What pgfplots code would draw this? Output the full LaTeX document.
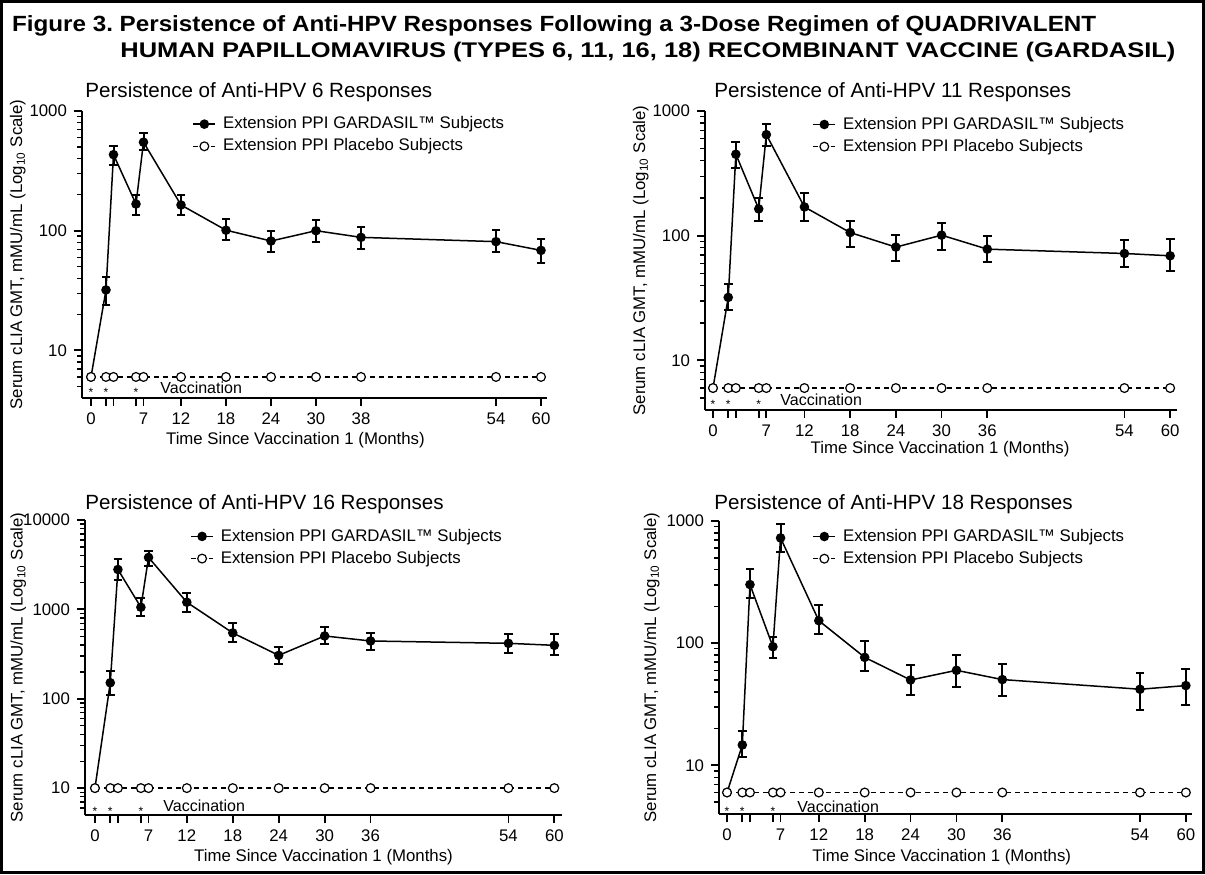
\documentclass[border=0pt]{standalone}
\usepackage{graphicx}
\usepackage{pgfplots}
\pgfplotsset{compat=1.18}
\usepackage{fontspec}
\setmainfont{Liberation Sans}
\frenchspacing
\newcommand{\tf}{\fontsize{8.4}{10}\selectfont}
\pgfplotsset{
  legend image code/.code={\draw[mark repeat=2,mark phase=2,#1] plot coordinates {(0pt,0pt) (5.5pt,0pt) (11pt,0pt)};},
  every axis/.append style={
    scale only axis, anchor=south west, clip=false,
    ymode=log,
    axis x line*=bottom, axis y line*=left,
    axis line style={line width=1pt},
    tick align=outside,
    major tick length=4pt, minor tick length=2.5pt,
    every tick/.style={black, line width=0.9pt},
    every minor tick/.style={black, line width=0.7pt},
    xtick={0,2,3,6,7,12,18,24,30,36,54,60},
    tick label style={font=\tf},
    every axis label/.append style={font=\tf},
    xlabel={Time Since Vaccination 1 (Months)},
    ylabel={Serum cLIA GMT, mMU/mL (Log\textsubscript{10} Scale)},
  },
  every axis legend/.append style={draw=none, fill=none, font=\tf, cells={anchor=west}, anchor=north west, row sep=-0.5pt, column sep=1.5pt, inner sep=0pt},
}
\tikzset{
  gard/.style={black, solid, line width=0.75pt, mark=*, mark size=2pt},
  plac/.style={black, line width=0.75pt, dash pattern=on 2.5pt off 2pt, mark=*, mark size=2.2pt, mark options={solid, fill=white, draw=black, line width=0.6pt}},
  ebar/.style={black, solid, line width=1pt, mark=-, mark size=2.2pt, mark options={solid, line width=1pt}},
}
\newcommand{\vacc}[2]{%
  \node[font=\fontsize{8}{9}\selectfont, anchor=west, inner sep=0pt] at (axis cs:#1) {Vaccination};
  \node[font=\fontsize{6}{7}\selectfont, inner sep=0pt] at (axis cs:0,#2) {*};
  \node[font=\fontsize{6}{7}\selectfont, inner sep=0pt] at (axis cs:2,#2) {*};
  \node[font=\fontsize{6}{7}\selectfont, inner sep=0pt] at (axis cs:6,#2) {*};
}
\begin{document}
\begin{tikzpicture}
\useasboundingbox (0pt,0pt) rectangle (602.5pt,-437pt);
\draw[line width=1.5pt] (0.75pt,-0.75pt) rectangle (601.75pt,-436.25pt);
\node[font=\bfseries\fontsize{11}{13}\selectfont, anchor=base west, inner sep=0pt] at (5.85pt,-15.85pt) {\resizebox{542pt}{\height}{Figure 3. Persistence of Anti-HPV Responses Following a 3-Dose Regimen of QUADRIVALENT}};
\node[font=\bfseries\fontsize{10.6}{13}\selectfont, anchor=base west, inner sep=0pt] at (60pt,-28.65pt) {\resizebox{527.5pt}{\height}{HUMAN PAPILLOMAVIRUS (TYPES 6, 11, 16, 18) RECOMBINANT VACCINE (GARDASIL)}};
\node[font=\fontsize{10.3}{12}\selectfont, anchor=base west, inner sep=0pt] at (42.5pt,-48.75pt) {Persistence of Anti-HPV 6 Responses};
\node[font=\fontsize{10.3}{12}\selectfont, anchor=base west, inner sep=0pt] at (357pt,-48.75pt) {Persistence of Anti-HPV 11 Responses};
\node[font=\fontsize{10.3}{12}\selectfont, anchor=base west, inner sep=0pt] at (42.5pt,-254.75pt) {Persistence of Anti-HPV 16 Responses};
\node[font=\fontsize{10.3}{12}\selectfont, anchor=base west, inner sep=0pt] at (357pt,-254.75pt) {Persistence of Anti-HPV 18 Responses};

% ---------- HPV 6 ----------
\begin{axis}[at={(41pt,-199pt)}, width=232.5pt, height=143.5pt,
  xmin=-1.2, xmax=60.8, ymin=4, ymax=1000,
  ytick={10,100,1000}, yticklabels={10,100,1000},
  minor ytick={5,6,7,8,9,20,30,40,50,60,70,80,90,200,300,400,500,600,700,800,900},
  xticklabels={0,,,,7,12,18,24,30,38,54,60},
  xlabel style={at={(axis description cs:0.459,-0.146)}, anchor=center},
  ylabel style={at={(axis description cs:-0.138,0.5)}, anchor=center},
  legend style={at={(axis description cs:0.237,0.996)}}]
\addplot[gard] coordinates {(0,6) (2,32) (3,432) (6,167) (7,549) (12,164) (18,101) (24,82) (30,100) (36,88) (54,81) (60,68.5)};
\addlegendentry{Extension PPI GARDASIL™ Subjects}
\addplot[plac] coordinates {(0,6) (2,6) (3,6) (6,6) (7,6) (12,6) (18,6) (24,6) (30,6) (36,6) (54,6) (60,6)};
\addlegendentry{Extension PPI Placebo Subjects}
\addplot[ebar, unbounded coords=jump, forget plot] coordinates {(2,24) (2,41) (2,nan) (3,356) (3,515) (3,nan) (6,135) (6,200) (6,nan) (7,468) (7,650) (7,nan) (12,135) (12,200) (12,nan) (18,84) (18,125) (18,nan) (24,67) (24,99) (24,nan) (30,80) (30,122) (30,nan) (36,71) (36,108) (36,nan) (54,66) (54,101) (54,nan) (60,53.5) (60,86)};
\vacc{9.2,4.9}{4.45}
\end{axis}

% ---------- HPV 11 ----------
\begin{axis}[at={(352.5pt,-205pt)}, width=236pt, height=149.5pt,
  xmin=-1.05, xmax=60.9, ymin=4, ymax=1000,
  ytick={10,100,1000}, yticklabels={10,100,1000},
  minor ytick={5,6,7,8,9,20,30,40,50,60,70,80,90,200,300,400,500,600,700,800,900},
  xticklabels={0,,,,7,12,18,24,30,36,54,60},
  xlabel style={at={(axis description cs:0.498,-0.13)}, anchor=center},
  ylabel style={at={(axis description cs:-0.136,0.5)}, anchor=center},
  legend style={at={(axis description cs:0.227,0.995)}}]
\addplot[gard] coordinates {(0,6) (2,32) (3,450) (6,164) (7,646) (12,170) (18,106) (24,81) (30,101) (36,78) (54,72) (60,69)};
\addlegendentry{Extension PPI GARDASIL™ Subjects}
\addplot[plac] coordinates {(0,6) (2,6) (3,6) (6,6) (7,6) (12,6) (18,6) (24,6) (30,6) (36,6) (54,6) (60,6)};
\addlegendentry{Extension PPI Placebo Subjects}
\addplot[ebar, unbounded coords=jump, forget plot] coordinates {(2,25.5) (2,41) (2,nan) (3,346) (3,560) (3,nan) (6,131) (6,201) (6,nan) (7,526) (7,780) (7,nan) (12,131) (12,220) (12,nan) (18,81) (18,131) (18,nan) (24,63) (24,102) (24,nan) (30,77.5) (30,127) (30,nan) (36,61) (36,99) (36,nan) (54,56) (54,92) (54,nan) (60,52) (60,94)};
\vacc{8.8,4.85}{4.42}
\end{axis}

% ---------- HPV 16 ----------
\begin{axis}[at={(42.5pt,-407.5pt)}, width=238.5pt, height=147.5pt,
  xmin=-1.3, xmax=61, ymin=5, ymax=10000,
  ytick={10,100,1000,10000}, yticklabels={10,100,1000,10000},
  minor ytick={6,7,8,9,20,30,40,50,60,70,80,90,200,300,400,500,600,700,800,900,2000,3000,4000,5000,6000,7000,8000,9000},
  xticklabels={0,,,,7,12,18,24,30,36,54,60},
  xlabel style={at={(axis description cs:0.5,-0.142)}, anchor=center},
  ylabel style={at={(axis description cs:-0.14,0.5)}, anchor=center},
  legend style={at={(axis description cs:0.22,0.985)}}]
\addplot[gard] coordinates {(0,10) (2,151) (3,2794) (6,1056) (7,3811) (12,1202) (18,545) (24,306) (30,504) (36,443) (54,417) (60,396)};
\addlegendentry{Extension PPI GARDASIL™ Subjects}
\addplot[plac] coordinates {(0,10) (2,10) (3,10) (6,10) (7,10) (12,10) (18,10) (24,10) (30,10) (36,10) (54,10) (60,10)};
\addlegendentry{Extension PPI Placebo Subjects}
\addplot[ebar, unbounded coords=jump, forget plot] coordinates {(2,109) (2,204) (2,nan) (3,2123) (3,3622) (3,nan) (6,837) (6,1343) (6,nan) (7,3048) (7,4524) (7,nan) (12,936) (12,1528) (12,nan) (18,431) (18,705) (18,nan) (24,246) (24,379) (24,nan) (30,413) (30,635) (30,nan) (36,348) (36,549) (36,nan) (54,327) (54,526) (54,nan) (60,310) (60,526)};
\vacc{8.9,6.28}{5.52}
\end{axis}

% ---------- HPV 18 ----------
\begin{axis}[at={(359.5pt,-407pt)}, width=236.5pt, height=146.5pt,
  xmin=-1.05, xmax=60.8, ymin=4, ymax=1000,
  ytick={10,100,1000}, yticklabels={10,100,1000},
  minor ytick={5,6,7,8,9,20,30,40,50,60,70,80,90,200,300,400,500,600,700,800,900},
  xticklabels={0,,,,7,12,18,24,30,36,54,60},
  xlabel style={at={(axis description cs:0.471,-0.147)}, anchor=center},
  ylabel style={at={(axis description cs:-0.142,0.5)}, anchor=center},
  legend style={at={(axis description cs:0.197,0.988)}}]
\addplot[gard] coordinates {(0,6) (2,14.7) (3,302) (6,93.6) (7,727) (12,153) (18,76.6) (24,50) (30,60) (36,50.4) (54,42) (60,45)};
\addlegendentry{Extension PPI GARDASIL™ Subjects}
\addplot[plac] coordinates {(0,6) (2,6) (3,6) (6,6) (7,6) (12,6) (18,6) (24,6) (30,6) (36,6) (54,6) (60,6)};
\addlegendentry{Extension PPI Placebo Subjects}
\addplot[ebar, unbounded coords=jump, forget plot] coordinates {(2,11.8) (2,19) (2,nan) (3,234) (3,403) (3,nan) (6,75.7) (6,113) (6,nan) (7,562) (7,940) (7,nan) (12,118) (12,205) (12,nan) (18,59) (18,103.5) (18,nan) (24,38) (24,66.7) (24,nan) (30,44) (30,80.5) (30,nan) (36,37) (36,67.6) (36,nan) (54,28.6) (54,57) (54,nan) (60,31.5) (60,62)};
\vacc{9.15,4.6}{4.18}
\end{axis}
\end{tikzpicture}
\end{document}
